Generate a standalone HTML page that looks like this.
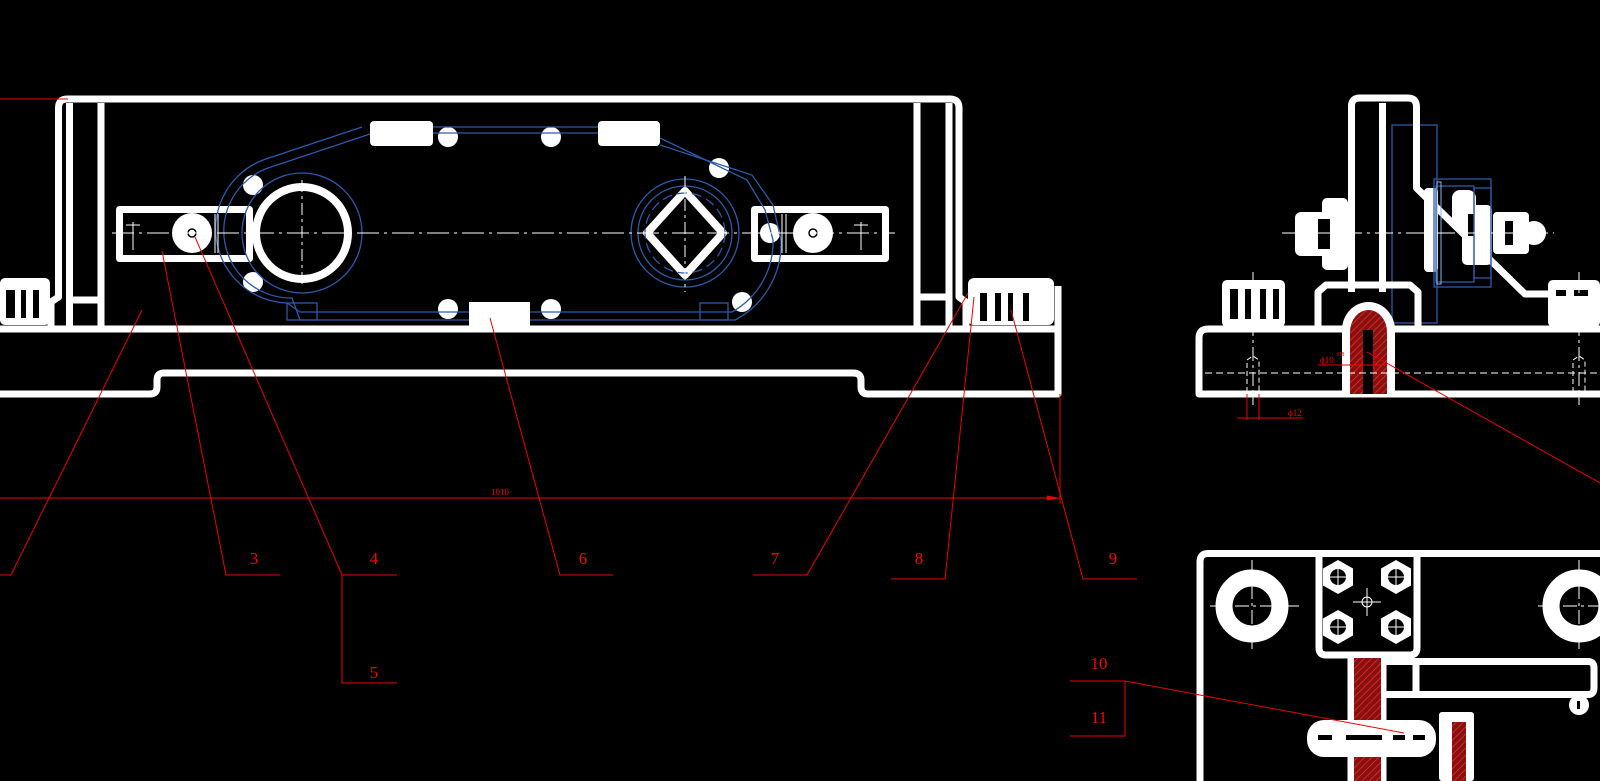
<!DOCTYPE html>
<html><head><meta charset="utf-8"><style>
html,body{margin:0;padding:0;background:#000;}
svg{display:block;}
text{font-family:"Liberation Serif",serif;fill:#f00;}
</style></head><body>
<svg width="1600" height="781" viewBox="0 0 1600 781" xmlns="http://www.w3.org/2000/svg">
<defs>
<pattern id="h" width="5" height="5" patternUnits="userSpaceOnUse" patternTransform="rotate(45)">
<rect width="5" height="5" fill="#8a1010"/><line x1="0" y1="0" x2="0" y2="5" stroke="#e03030" stroke-width="1.5"/>
</pattern>
</defs>
<rect width="1600" height="781" fill="#000"/>

<g fill="none" stroke="#fff" stroke-width="7" stroke-linejoin="round">
<path d="M51,326 L51,302 L58.5,297 L58.5,108 Q58.5,99 67,99 L950,99 Q959,99 959,108 L959,297 L966,302 L966,326"/>
<line x1="69.5" y1="103" x2="69.5" y2="326"/>
<line x1="101" y1="103" x2="101" y2="326"/>
<line x1="69" y1="300" x2="101" y2="300"/>
<line x1="917" y1="103" x2="917" y2="326"/>
<line x1="949" y1="103" x2="949" y2="326"/>
<line x1="917" y1="297" x2="949" y2="297"/>
<line x1="0" y1="329" x2="1058" y2="329"/>
<path d="M0,394 L150,394 Q157,394 157,387 L157,380 Q157,373 164,373 L853,373 Q861,373 861,380 L861,387 Q861,394 868,394 L1058,394 L1058,286"/>
<rect x="119.5" y="209.5" width="130" height="49"/>
<rect x="754.5" y="209.5" width="131" height="49"/>
<circle cx="302" cy="233" r="46" stroke-width="8"/>
<path d="M685,191 L723,233 L685,275 L647,233 Z" stroke-width="8"/>
</g>
<rect x="0" y="278" width="50" height="47" rx="5" fill="#fff"/>
<rect x="6" y="290" width="9" height="28" fill="#000"/>
<rect x="21" y="290" width="5" height="28" fill="#000"/>
<rect x="33" y="290" width="6" height="28" fill="#000"/>
<rect x="968" y="278" width="86" height="47" rx="6" fill="#fff"/>
<rect x="980" y="293" width="7" height="28" fill="#000"/>
<rect x="995" y="293" width="6" height="28" fill="#000"/>
<rect x="1008" y="293" width="5" height="28" fill="#000"/>
<rect x="1023" y="293" width="6" height="28" fill="#000"/>
<g fill="#fff">
<circle cx="192" cy="233" r="20"/><circle cx="813" cy="233" r="20"/>
<circle cx="253" cy="185" r="10"/><circle cx="253" cy="282" r="10"/>
<circle cx="448" cy="137" r="10"/><circle cx="551" cy="137" r="10"/>
<circle cx="448" cy="309" r="10"/><circle cx="551" cy="309" r="10"/>
<circle cx="719" cy="168" r="10"/><circle cx="742" cy="302" r="10"/>
<circle cx="770" cy="233" r="10"/>
<rect x="370" y="121" width="63" height="25" rx="4"/>
<rect x="598" y="121" width="62" height="25" rx="4"/>
<rect x="469" y="302" width="61" height="24"/>
</g>
<circle cx="192" cy="233" r="4" fill="none" stroke="#000" stroke-width="1.5"/>
<circle cx="813" cy="233" r="4" fill="none" stroke="#000" stroke-width="1.5"/>
<g fill="none" stroke="#2c5aa8" stroke-width="1.3">
<path d="M362,127 L263,160 A74,74 0 0 0 287,303 L300,312 L469,312"/>
<path d="M370,134 L268,168 A67,67 0 0 0 292,298 L300,320 L469,320"/>
<line x1="433" y1="127" x2="598" y2="127"/><line x1="433" y1="133" x2="598" y2="133"/>
<path d="M530,312 L732,312 A80,80 0 0 0 773,240 L765,210 L747,180 L660,138"/>
<path d="M530,320 L735,320 A86,86 0 0 0 781,240 L773,205 L752,175 L660,145"/>
<rect x="287" y="303" width="30" height="17"/><rect x="700" y="303" width="28" height="17"/>
<circle cx="302" cy="233" r="60"/>
<circle cx="685" cy="233" r="54"/><circle cx="685" cy="233" r="47"/>
<circle cx="685" cy="233" r="40" stroke-dasharray="10,5"/>
</g>
<g stroke="#fff" stroke-width="1" fill="none">
<line x1="112" y1="233" x2="895" y2="233" stroke-dasharray="22,5,3,5"/>
<line x1="302" y1="180" x2="302" y2="288" stroke-dasharray="12,4,3,4"/>
<line x1="685" y1="176" x2="685" y2="292" stroke-dasharray="12,4,3,4"/>
<line x1="133" y1="222" x2="133" y2="250"/><line x1="126" y1="225" x2="140" y2="225"/>
<line x1="861" y1="222" x2="861" y2="250"/><line x1="854" y1="225" x2="868" y2="225"/>
<line x1="215" y1="214" x2="215" y2="253"/><line x1="218" y1="214" x2="218" y2="253"/>
<line x1="782" y1="214" x2="782" y2="253"/><line x1="786" y1="214" x2="786" y2="253"/>
</g>

<rect x="1392" y="125" width="45" height="198" fill="none" stroke="#2c5aa8" stroke-width="1.3"/>
<g fill="none" stroke="#fff" stroke-width="7" stroke-linejoin="round">
<path d="M1351.5,292 L1351.5,106 Q1351.5,98 1360,98 L1408,98 Q1416.5,98 1416.5,107 L1416.5,188 L1525,294 L1600,294"/>
<line x1="1382.5" y1="103" x2="1382.5" y2="292"/>
<path d="M1600,329 L1208,329 Q1199,329 1199,338 L1199,394 L1600,394"/>
<path d="M1318,327 L1318,292 L1326,285 L1410,285 L1418,292 L1418,327"/>
</g>
<path d="M1342,394 L1342,330 A26.5,28 0 0 1 1395,330 L1395,394 Z" fill="#fff"/>
<path d="M1350,394 L1350,332 A18.5,22 0 0 1 1387,332 L1387,394 Z" fill="url(#h)"/>
<rect x="1363" y="330" width="10" height="64" fill="#000"/>
<rect x="1222" y="280" width="63" height="47" rx="5" fill="#fff"/>
<rect x="1230" y="289" width="8" height="30" fill="#000"/><rect x="1245" y="289" width="6" height="30" fill="#000"/>
<rect x="1260" y="289" width="6" height="30" fill="#000"/><rect x="1273" y="289" width="6" height="30" fill="#000"/>
<rect x="1548" y="280" width="52" height="47" rx="5" fill="#fff"/>
<rect x="1556" y="290" width="10" height="6" fill="#000"/><rect x="1574" y="290" width="14" height="6" fill="#000"/>
<rect x="1295" y="212" width="32" height="44" rx="6" fill="#fff"/>
<rect x="1322" y="198" width="26" height="72" rx="5" fill="#fff"/>
<rect x="1318" y="219" width="12" height="30" fill="#000"/>
<rect x="1493" y="212" width="36" height="42" rx="4" fill="#fff"/>
<circle cx="1534" cy="233" r="12" fill="#fff"/>
<rect x="1505" y="221" width="8" height="24" fill="#000"/>
<g fill="#fff">
<rect x="1424" y="188" width="14" height="84" rx="4"/>
<rect x="1452" y="190" width="24" height="40" rx="8"/>
<rect x="1462" y="205" width="30" height="60" rx="5"/>
</g>
<rect x="1468" y="214" width="6" height="22" fill="#000"/>
<g fill="none" stroke="#2c5aa8" stroke-width="1.3">
<rect x="1434" y="179" width="57" height="108"/><rect x="1436" y="186" width="38" height="96"/>
<rect x="1474" y="188" width="17" height="90"/>
</g>
<rect x="1437" y="182" width="4" height="102" fill="none" stroke="#8ab4e8" stroke-width="1"/>
<g stroke="#fff" stroke-width="1" fill="none">
<line x1="1282" y1="233" x2="1554" y2="233" stroke-dasharray="18,5,3,5"/>
<line x1="1205" y1="373" x2="1600" y2="373" stroke-dasharray="7,4"/>
<line x1="1253" y1="272" x2="1253" y2="405" stroke-dasharray="14,4,3,4"/>
<line x1="1579" y1="272" x2="1579" y2="405" stroke-dasharray="14,4,3,4"/>
<path d="M1247,392 L1247,360 L1253,356 L1259,360 L1259,392" stroke-dasharray="5,3"/>
<path d="M1573,392 L1573,360 L1579,356 L1585,360 L1585,392" stroke-dasharray="5,3"/>
</g>
<g stroke="#e00" stroke-width="1" fill="none">
<line x1="1247" y1="394" x2="1247" y2="420"/><line x1="1259" y1="394" x2="1259" y2="420"/>
<line x1="1237" y1="418" x2="1303" y2="418"/>
<line x1="1318" y1="365" x2="1385" y2="365"/>
<line x1="1362" y1="350" x2="1362" y2="372"/><line x1="1374" y1="350" x2="1374" y2="372"/>
</g>
<text x="1288" y="416" font-size="9">ϕ12</text>
<text x="1320" y="363" font-size="9">ϕ10</text>
<text x="1337" y="356" font-size="6">H8</text>

<g fill="none" stroke="#fff" stroke-width="7" stroke-linejoin="round">
<path d="M1200,781 L1200,562 Q1200,553.5 1208,553.5 L1600,553.5"/>
<path d="M1319,553 L1319,648 Q1319,655 1326,655 L1410,655 Q1417,655 1417,648 L1417,553"/>
<path d="M1351,655 L1351,781"/><path d="M1383,655 L1383,781"/>
<path d="M1386,661.5 L1588,661.5 Q1594,661.5 1594,668 L1594,688 Q1594,694.5 1588,694.5 L1386,694.5"/>
<line x1="1416" y1="661" x2="1416" y2="695"/>
</g>
<rect x="1354" y="658" width="27" height="123" fill="url(#h)"/>
<circle cx="1252" cy="606" r="28" fill="none" stroke="#fff" stroke-width="17"/>
<circle cx="1579" cy="606" r="28" fill="none" stroke="#fff" stroke-width="17"/>
<g fill="#fff">
<polygon points="1338,560 1353,568.5 1353,585.5 1338,594 1323,585.5 1323,568.5"/>
<polygon points="1396,560 1411,568.5 1411,585.5 1396,594 1381,585.5 1381,568.5"/>
<polygon points="1338,610 1353,618.5 1353,635.5 1338,644 1323,635.5 1323,618.5"/>
<polygon points="1396,610 1411,618.5 1411,635.5 1396,644 1381,635.5 1381,618.5"/>
<circle cx="1579" cy="705" r="10"/>
<rect x="1307" y="720" width="129" height="37" rx="17"/>
<rect x="1439" y="712" width="35" height="69" rx="3"/>
</g>
<rect x="1452" y="722" width="14" height="59" fill="url(#h)"/>
<rect x="1355" y="757" width="26" height="24" fill="url(#h)"/>
<rect x="1357" y="700" width="22" height="20" fill="url(#h)"/>
<g fill="#000">
<circle cx="1338" cy="577" r="8"/><circle cx="1396" cy="577" r="8"/>
<circle cx="1338" cy="627" r="8"/><circle cx="1396" cy="627" r="8"/>
<rect x="1318" y="735" width="14" height="5"/><rect x="1346" y="735" width="36" height="5"/>
<rect x="1393" y="735" width="12" height="5"/><rect x="1413" y="735" width="12" height="5"/>
<rect x="1577" y="701" width="3" height="8"/>
</g>
<g stroke="#fff" stroke-width="1" fill="none">
<line x1="1328" y1="577" x2="1348" y2="577"/><line x1="1338" y1="567" x2="1338" y2="587"/>
<line x1="1386" y1="577" x2="1406" y2="577"/><line x1="1396" y1="567" x2="1396" y2="587"/>
<line x1="1328" y1="627" x2="1348" y2="627"/><line x1="1338" y1="617" x2="1338" y2="637"/>
<line x1="1386" y1="627" x2="1406" y2="627"/><line x1="1396" y1="617" x2="1396" y2="637"/>
<circle cx="1367" cy="602" r="5"/><line x1="1353" y1="602" x2="1381" y2="602"/><line x1="1367" y1="588" x2="1367" y2="616"/>
<line x1="1210" y1="606" x2="1300" y2="606" stroke-dasharray="14,4,3,4"/>
<line x1="1252" y1="560" x2="1252" y2="652" stroke-dasharray="14,4,3,4"/>
<line x1="1538" y1="606" x2="1600" y2="606" stroke-dasharray="14,4,3,4"/>
<line x1="1579" y1="560" x2="1579" y2="652" stroke-dasharray="14,4,3,4"/>
</g>

<g stroke="#e00" stroke-width="1" fill="none">
<line x1="0" y1="99" x2="68" y2="99"/>
<polyline points="0,575 11,575 142,310"/>
<polyline points="280,575 226,575 162,251"/>
<polyline points="397,575 342,575 195,237"/>
<polyline points="342,575 342,683 397,683"/>
<polyline points="613,575 560,575 490,318"/>
<polyline points="753,575 807,575 968,293"/>
<polyline points="891,579 945,579 974,297"/>
<polyline points="1137,579 1083,579 1011,310"/>
<polyline points="1070,681 1125,681 1404,733"/>
<polyline points="1125,681 1125,736 1070,736"/>
<line x1="1367" y1="352" x2="1600" y2="483"/>
<line x1="0" y1="498" x2="1060" y2="498"/>
<line x1="1060" y1="394" x2="1060" y2="503"/>
</g>
<polygon points="1060,498 1047,495.5 1047,500.5" fill="#e00"/>
<text x="500" y="495" font-size="9" text-anchor="middle">1010</text>
<g font-size="17" text-anchor="middle">
<text x="254" y="564">3</text>
<text x="374" y="564">4</text>
<text x="374" y="678">5</text>
<text x="583" y="564">6</text>
<text x="775" y="564">7</text>
<text x="919" y="564">8</text>
<text x="1113" y="564">9</text>
<text x="1099" y="669">10</text>
<text x="1099" y="723">11</text>
</g>
</svg>
</body></html>
